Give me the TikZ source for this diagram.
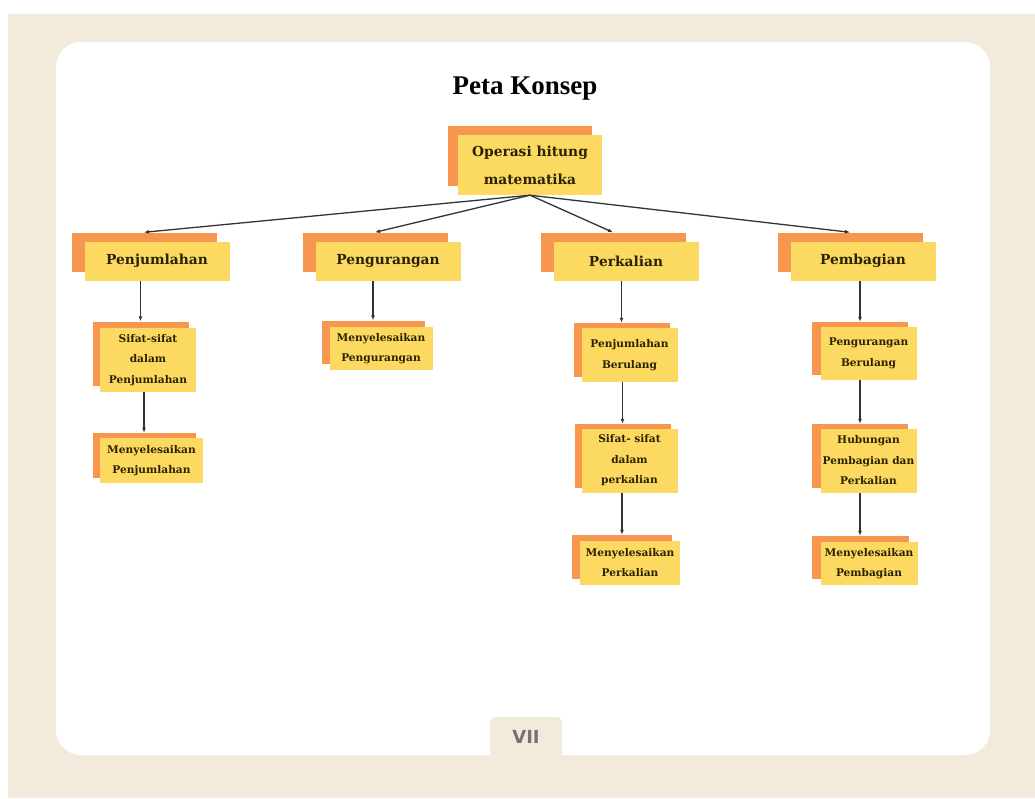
\documentclass[tikz,border=0pt]{standalone}
\usepackage{fontspec}
\setmainfont{Liberation Serif}
\newfontfamily\kotakfont{DejaVu Serif}
\newfontfamily\halfont{DejaVu Sans}
\usepackage{xcolor}
\usepackage{tikz}
\usetikzlibrary{arrows.meta,positioning}
\definecolor{latar}{HTML}{F2EBDC}
\definecolor{jingga}{HTML}{F7964F}
\definecolor{kuning}{HTML}{FCDA62}
\definecolor{tinta}{HTML}{2B2200}

\begin{document}
\begin{tikzpicture}[
  x=1pt,y=-1pt,
  lapis/.style={fill=jingga,inner sep=0pt},
  akar/.style={fill=kuning,inner sep=0pt,align=center,text=tinta,font=\kotakfont\bfseries\fontsize{13.8}{28}\selectfont},
  kat/.style={akar,minimum width=145pt,minimum height=39pt},
  anak/.style={akar,font=\kotakfont\bfseries\fontsize{10.6}{20.5}\selectfont},
  arr/.style={-{Latex[length=5pt,width=4pt]},line width=1.3pt,draw=black!80}
]
\useasboundingbox (0,0) rectangle (1035,798);
% page and panel
\fill[white] (0,0) rectangle (1035,798);
\fill[latar] (8,14) rectangle (1035,798);
\fill[white,rounded corners=25pt] (56,42) rectangle (990,755);
\fill[latar,rounded corners=6pt] (490,760) -- (490,717) -- (562,717) -- (562,760);
\node[font=\halfont\bfseries\fontsize{18}{18}\selectfont,text=black!55] (hal) at (526,737) {VII};
\node[font=\bfseries\fontsize{27}{30}\selectfont] (judul) at (525,89) {Peta Konsep};

% root
\node[lapis,minimum width=144pt,minimum height=60pt] (opb) at (520,156) {};
\node[akar,minimum width=144pt,minimum height=60pt] (op) at ([shift={(10pt,-9pt)}]opb) {Operasi hitung\\matematika};

% level 1
\node[lapis,minimum width=145pt,minimum height=39pt] (jumb) at (144,252) {};
\node[kat] (jum) at ([shift={(13pt,-9pt)}]jumb) {Penjumlahan};
\node[lapis,minimum width=145pt,minimum height=39pt] (kurb) at (375,252) {};
\node[kat] (kur) at ([shift={(13pt,-9pt)}]kurb) {Pengurangan};
\node[lapis,minimum width=145pt,minimum height=39pt] (kalib) at (613,252) {};
\node[kat] (kali) at ([shift={(13pt,-9pt)}]kalib) {Perkalian};
\node[lapis,minimum width=145pt,minimum height=39pt] (bagib) at (850,252) {};
\node[kat] (bagi) at ([shift={(13pt,-9pt)}]bagib) {Pembagian};

% penjumlahan
\node[lapis,minimum width=96pt,minimum height=64pt] (jum1b) at (140.5,353.5) {};
\node[anak,minimum width=96pt,minimum height=64pt] (jum1) at ([shift={(7.5pt,-6.5pt)}]jum1b) {Sifat-sifat\\dalam\\Penjumlahan};
\node[lapis,minimum width=103pt,minimum height=45pt] (jum2b) at (144,455.5) {};
\node[anak,minimum width=103pt,minimum height=45pt] (jum2) at ([shift={(7.5pt,-5pt)}]jum2b) {Menyelesaikan\\Penjumlahan};

% pengurangan
\node[lapis,minimum width=103pt,minimum height=43pt] (kur1b) at (373,342) {};
\node[anak,minimum width=103pt,minimum height=43pt] (kur1) at ([shift={(8pt,-6.5pt)}]kur1b) {Menyelesaikan\\Pengurangan};

% perkalian
\node[lapis,minimum width=96pt,minimum height=54pt] (kali1b) at (621.5,350) {};
\node[anak,minimum width=96pt,minimum height=54pt] (kali1) at ([shift={(8pt,-5pt)}]kali1b) {Penjumlahan\\Berulang};
\node[lapis,minimum width=96pt,minimum height=64pt] (kali2b) at (622.5,456) {};
\node[anak,minimum width=96pt,minimum height=64pt] (kali2) at ([shift={(7pt,-4.5pt)}]kali2b) {Sifat- sifat\\dalam\\perkalian};
\node[lapis,minimum width=100pt,minimum height=44pt] (kali3b) at (622,557) {};
\node[anak,minimum width=100pt,minimum height=44pt] (kali3) at ([shift={(8pt,-5.5pt)}]kali3b) {Menyelesaikan\\Perkalian};

% pembagian
\node[lapis,minimum width=96pt,minimum height=53pt] (bagi1b) at (860,348.5) {};
\node[anak,minimum width=96pt,minimum height=53pt] (bagi1) at ([shift={(8.5pt,-5pt)}]bagi1b) {Pengurangan\\Berulang};
\node[lapis,minimum width=96pt,minimum height=64pt] (bagi2b) at (860,456) {};
\node[anak,minimum width=96pt,minimum height=64pt] (bagi2) at ([shift={(8.5pt,-4.5pt)}]bagi2b) {Hubungan\\Pembagian dan\\Perkalian};
\node[lapis,minimum width=97pt,minimum height=43pt] (bagi3b) at (860,557.5) {};
\node[anak,minimum width=97pt,minimum height=43pt] (bagi3) at ([shift={(9pt,-6pt)}]bagi3b) {Menyelesaikan\\Pembagian};

% connectors
\draw[arr] (op.south) -- (jumb.north);
\draw[arr] (op.south) -- (kurb.north);
\draw[arr] (op.south) -- (kalib.north);
\draw[arr] (op.south) -- (bagib.north);
\draw[arr] (jum1b.north |- jum.south) -- (jum1b.north);
\draw[arr] (jum2b.north |- jum1.south) -- (jum2b.north);
\draw[arr] (kur1b.north |- kur.south) -- (kur1b.north);
\draw[arr] (kali1b.north |- kali.south) -- (kali1b.north);
\draw[arr] (kali2b.north |- kali1.south) -- (kali2b.north);
\draw[arr] (kali3b.north |- kali2.south) -- (kali3b.north);
\draw[arr] (bagi1b.north |- bagi.south) -- (bagi1b.north);
\draw[arr] (bagi2b.north |- bagi1.south) -- (bagi2b.north);
\draw[arr] (bagi3b.north |- bagi2.south) -- (bagi3b.north);
\end{tikzpicture}
\end{document}
